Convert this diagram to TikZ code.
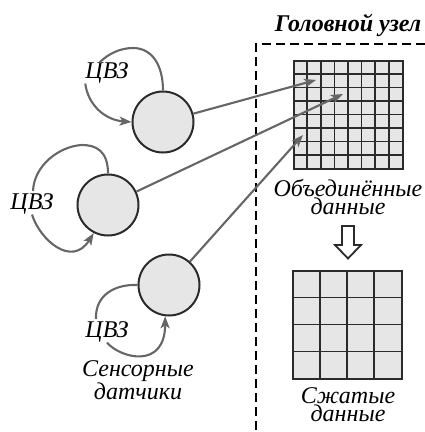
\documentclass[tikz,border=0pt]{standalone}
\usepackage{fontspec}
\setmainfont{Liberation Serif}
\usetikzlibrary{arrows.meta}
\definecolor{cellgray}{HTML}{E6E6E6}
\definecolor{linkgray}{HTML}{666666}
\definecolor{edgedark}{HTML}{2B2B2B}
\tikzset{sensor/.style={circle, draw=edgedark, fill=cellgray, line width=2pt, minimum size=61pt, inner sep=0pt},
  caption/.style={font=\fontsize{24}{18}\selectfont\itshape, align=center, inner sep=0pt},
  link/.style={draw=linkgray, line width=2.1pt},
  linkarrow/.style={link, -{Stealth[length=12pt, width=9pt, inset=3pt, fill=linkgray]}},
  cellbox/.style={draw=edgedark, fill=cellgray, line width=2pt, inner sep=0pt, minimum width=109pt, minimum height=108pt},
  cellline/.style={edgedark, line width=1.7pt}
}

\begin{document}
\begin{tikzpicture}[x=1pt, y=-1pt]
      \useasboundingbox (0,0) rectangle (425,432);
      % head node frame
      \coordinate (frametop) at (425,44);
      \coordinate (framecorner) at (256,44);
      \coordinate (framebottom) at (256,430);
      \draw[black, line width=2pt, dash pattern=on 9pt off 5pt] (frametop) -- (framecorner) -- (framebottom);
      \node[caption, font=\fontsize{24}{18}\selectfont\itshape\bfseries] (head) at (348,25) {Головной узел};
      % fine grid
      \node[cellbox] (fine) at (348,114.5) {};
      \foreach \i in {1,...,7} {
        \draw[cellline] (293.5+13.62*\i,60.5) -- (293.5+13.62*\i,168.5);
        \draw[cellline] (293.5,60.5+13.5*\i) -- (402.5,60.5+13.5*\i);
      }
      \node[caption] (finetext) at (348,197) {Объединённые\\данные};
      % coarse grid
      \node[cellbox] (coarse) at (347,324.5) {};
      \foreach \i in {1,...,3} {
        \draw[cellline] (292.5+27.25*\i,270.5) -- (292.5+27.25*\i,378.5);
        \draw[cellline] (292.5,270.5+27*\i) -- (401.5,270.5+27*\i);
      }
      \node[caption] (coarsetext) at (348,405) {Сжатые\\данные};
      % block arrow
      \draw[edgedark, fill=white, line width=1.8pt] (342,226) -- (354,226) -- (354,245) -- (361,245) -- (348,258.5) -- (335,245) -- (342,245) -- cycle;
      % sensors
      \node[sensor] (sens1) at (163,122) {};
      \node[sensor] (sens2) at (108,205) {};
      \node[sensor] (sens3) at (169,285) {};
      \node[caption] (wm1) at (107,73) {ЦВЗ};
      \node[caption] (wm2) at (32,204) {ЦВЗ};
      \node[caption] (wm3) at (107,332) {ЦВЗ};
      \node[caption] (senstext) at (138,380) {Сенсорные\\датчики};
      % loops
      \draw[link] (sens1.north) .. controls (163,65) and (152,48) .. (133,48) .. controls (120,48) and (108,54) .. (wm1.125);
      \draw[linkarrow] (wm1.south west) .. controls (88,105) and (105,120) .. (sens1.west);
      \draw[link] (sens2.north) .. controls (108,150) and (95,145) .. (82,145) .. controls (60,146) and (34,165) .. (33,191);
      \draw[linkarrow] (wm2.south) .. controls (40,240) and (72,268) .. (sens2.243);
      \draw[link] (sens3.west) .. controls (115,284) and (95,295) .. (96,319);
      \draw[linkarrow] (wm3.south) .. controls (120,358) and (165,370) .. (sens3.263);
      % links to the fine grid
      \coordinate (tip1) at (316,80);
      \coordinate (tip2) at (343,94);
      \coordinate (tip3) at (303,135);
      \draw[linkarrow] (sens1) -- (tip1);
      \draw[linkarrow] (sens2) -- (tip2);
      \draw[linkarrow] (sens3) -- (tip3);
    \end{tikzpicture}
\end{document}
